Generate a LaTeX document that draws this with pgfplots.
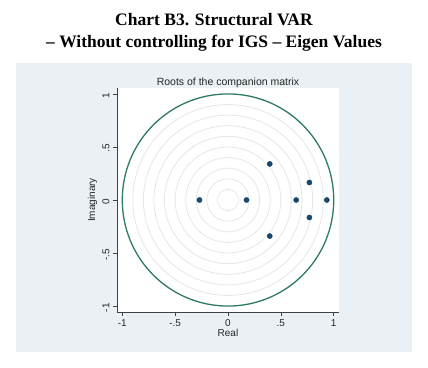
\documentclass[border=0pt]{standalone}
\usepackage{pgfplots}
\pgfplotsset{compat=1.18}
\usepackage{fontspec}
\setmainfont{Liberation Serif}
\newfontfamily\arial{Liberation Sans}
\definecolor{panel}{HTML}{EAF0F3}
\definecolor{navy}{HTML}{1A476F}
\definecolor{teal}{HTML}{2E7A66}
\definecolor{ring}{HTML}{E6E6E6}
\begin{document}
\begin{tikzpicture}
\useasboundingbox (0pt,0pt) rectangle (428pt,367pt);
\fill[panel] (16pt,15pt) rectangle (412pt,304pt);
\node[anchor=base,font=\bfseries\fontsize{17.5}{21}\selectfont] at (214pt,341pt) {Chart B3. Structural VAR};
\node[anchor=base,font=\bfseries\fontsize{17.5}{21}\selectfont] at (214pt,319pt) {-- Without controlling for IGS -- Eigen Values};
\node[anchor=base,font=\arial\fontsize{10.5}{12}\selectfont,text=black!85] at (228pt,281pt) {Roots of the companion matrix};
\begin{axis}[
  at={(117pt,55pt)}, anchor=south west,
  scale only axis, width=222pt, height=224pt,
  xmin=-1.05, xmax=1.05, ymin=-1.056, ymax=1.056,
  axis lines*=left,
  axis line style={black!75, line width=0.8pt},
  axis background/.style={fill=white},
  tick align=outside, major tick length=4pt,
  tick style={black!75, line width=0.7pt},
  xtick={-1,-0.5,0,0.5,1}, xticklabels={-1,-.5,0,.5,1},
  ytick={-1,-0.5,0,0.5,1}, yticklabels={-1,-.5,0,.5,1},
  yticklabel style={rotate=90, anchor=south, xshift=-1.5pt},
  ticklabel style={font=\arial\fontsize{10}{12}\selectfont, text=black!85},
  /pgf/number format/assume math mode=true,
  xlabel={Real}, ylabel={Imaginary},
  label style={font=\arial\fontsize{10}{12}\selectfont, text=black!85},
  xlabel style={yshift=4pt},
  ylabel style={at={(axis description cs:-0.11,0.5)}, anchor=center},
  clip=false,
]
\pgfplotsinvokeforeach{0.1,0.2,0.3,0.4,0.5,0.6,0.7,0.8,0.9}{
  \draw[ring, line width=0.8pt] (axis cs:0,0) ellipse [x radius=#1, y radius=#1];
}
\draw[teal, line width=1.3pt] (axis cs:0,0) ellipse [x radius=1, y radius=1];
\addplot[only marks, mark=*, mark size=2.6pt, navy, mark options={fill=navy, draw=navy}] coordinates {
(-0.27,0) (0.175,0) (0.395,0.34) (0.395,-0.34) (0.645,0) (0.77,0.165) (0.77,-0.165) (0.935,0)
};
\end{axis}
\end{tikzpicture}
\end{document}
